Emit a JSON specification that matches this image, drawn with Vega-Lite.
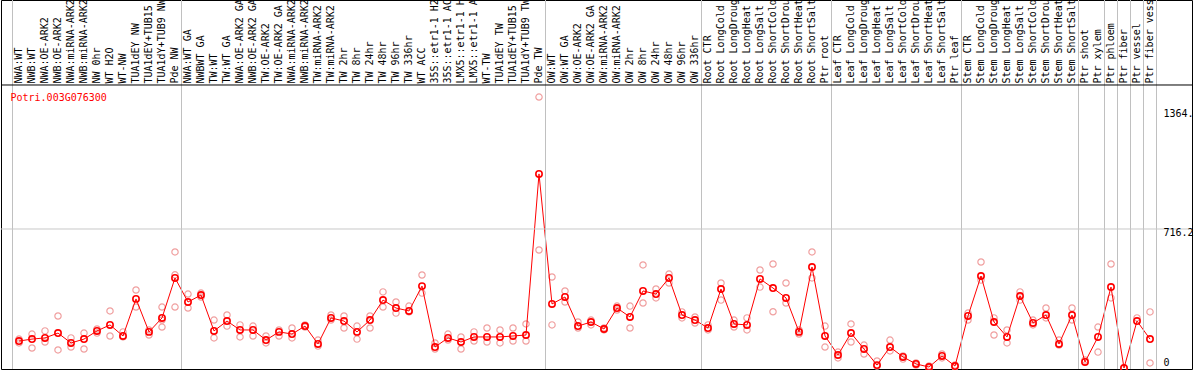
{
"$schema":"https://vega.github.io/schema/vega-lite/v6.json",
"width":1191,"height":369,
"autosize":{"type":"none"},
"padding":{"left":1,"top":0,"right":2,"bottom":1},
"background":"white",
"config":{"view":{"stroke":"#000000","strokeWidth":1},"font":"DejaVu Sans Mono"},
"data":{"values":[
{"c":"NWA:WT","k":"m","v":139,"g":"A"},{"c":"NWA:WT","k":"r","v":149},{"c":"NWA:WT","k":"r","v":129},
{"c":"NWB:WT","k":"m","v":149,"g":"A"},{"c":"NWB:WT","k":"r","v":175},{"c":"NWB:WT","k":"r","v":103},
{"c":"NWA:OE-ARK2","k":"m","v":155,"g":"A"},{"c":"NWA:OE-ARK2","k":"r","v":191},{"c":"NWA:OE-ARK2","k":"r","v":134},
{"c":"NWB:OE-ARK2","k":"m","v":180,"g":"A"},{"c":"NWB:OE-ARK2","k":"r","v":268},{"c":"NWB:OE-ARK2","k":"r","v":93},
{"c":"NWA:miRNA-ARK2","k":"m","v":129,"g":"A"},{"c":"NWA:miRNA-ARK2","k":"r","v":155},{"c":"NWA:miRNA-ARK2","k":"r","v":108},
{"c":"NWB:miRNA-ARK2","k":"m","v":149,"g":"A"},{"c":"NWB:miRNA-ARK2","k":"r","v":180},{"c":"NWB:miRNA-ARK2","k":"r","v":98},
{"c":"NW 0hr","k":"m","v":191,"g":"A"},{"c":"NW 0hr","k":"r","v":201},{"c":"NW 0hr","k":"r","v":180},
{"c":"WT H2O","k":"m","v":222,"g":"A"},{"c":"WT H2O","k":"r","v":294},{"c":"WT H2O","k":"r","v":165},
{"c":"WT-NW","k":"m","v":165,"g":"A"},{"c":"WT-NW","k":"r","v":186},{"c":"WT-NW","k":"r","v":160},
{"c":"TUA1dEY NW","k":"m","v":356,"g":"A"},{"c":"TUA1dEY NW","k":"r","v":402},{"c":"TUA1dEY NW","k":"r","v":314},
{"c":"TUA1dEY+TUB15 NW","k":"m","v":186,"g":"A"},{"c":"TUA1dEY+TUB15 NW","k":"r","v":196},{"c":"TUA1dEY+TUB15 NW","k":"r","v":170},
{"c":"TUA1dY+TUB9 NW","k":"m","v":258,"g":"A"},{"c":"TUA1dY+TUB9 NW","k":"r","v":314},{"c":"TUA1dY+TUB9 NW","k":"r","v":247},{"c":"TUA1dY+TUB9 NW","k":"r","v":211},
{"c":"Pde NW","k":"m","v":464,"g":"A"},{"c":"Pde NW","k":"r","v":598},{"c":"Pde NW","k":"r","v":480},{"c":"Pde NW","k":"r","v":314},
{"c":"NWA:WT GA","k":"m","v":340,"g":"B"},{"c":"NWA:WT GA","k":"r","v":381},{"c":"NWA:WT GA","k":"r","v":309},
{"c":"NWBWT GA","k":"m","v":376,"g":"B"},{"c":"NWBWT GA","k":"r","v":386},{"c":"NWBWT GA","k":"r","v":366},
{"c":"TW:WT","k":"m","v":191,"g":"B"},{"c":"TW:WT","k":"r","v":247},{"c":"TW:WT","k":"r","v":155},
{"c":"TW:WT GA","k":"m","v":242,"g":"B"},{"c":"TW:WT GA","k":"r","v":273},{"c":"TW:WT GA","k":"r","v":216},
{"c":"NWA:OE-ARK2 GA","k":"m","v":196,"g":"B"},{"c":"NWA:OE-ARK2 GA","k":"r","v":222},{"c":"NWA:OE-ARK2 GA","k":"r","v":160},
{"c":"NWB:OE-ARK2 GA","k":"m","v":196,"g":"B"},{"c":"NWB:OE-ARK2 GA","k":"r","v":216},{"c":"NWB:OE-ARK2 GA","k":"r","v":165},
{"c":"TW:OE-ARK2","k":"m","v":144,"g":"B"},{"c":"TW:OE-ARK2","k":"r","v":165},{"c":"TW:OE-ARK2","k":"r","v":129},
{"c":"TW:OE-ARK2 GA","k":"m","v":186,"g":"B"},{"c":"TW:OE-ARK2 GA","k":"r","v":196},{"c":"TW:OE-ARK2 GA","k":"r","v":165},
{"c":"NWA:miRNA-ARK2 GA","k":"m","v":175,"g":"B"},{"c":"NWA:miRNA-ARK2 GA","k":"r","v":206},{"c":"NWA:miRNA-ARK2 GA","k":"r","v":155},
{"c":"NWB:miRNA-ARK2 GA","k":"m","v":216,"g":"B"},{"c":"NWB:miRNA-ARK2 GA","k":"r","v":222},{"c":"NWB:miRNA-ARK2 GA","k":"r","v":211},
{"c":"TW:miRNA-ARK2","k":"m","v":124,"g":"B"},{"c":"TW:miRNA-ARK2","k":"r","v":144},{"c":"TW:miRNA-ARK2","k":"r","v":113},
{"c":"TW:miRNA-ARK2 GA","k":"m","v":258,"g":"B"},{"c":"TW:miRNA-ARK2 GA","k":"r","v":273},{"c":"TW:miRNA-ARK2 GA","k":"r","v":247},
{"c":"TW 2hr","k":"m","v":242,"g":"B"},{"c":"TW 2hr","k":"r","v":268},{"c":"TW 2hr","k":"r","v":206},
{"c":"TW 8hr","k":"m","v":186,"g":"B"},{"c":"TW 8hr","k":"r","v":216},{"c":"TW 8hr","k":"r","v":149},
{"c":"TW 24hr","k":"m","v":247,"g":"B"},{"c":"TW 24hr","k":"r","v":268},{"c":"TW 24hr","k":"r","v":206},
{"c":"TW 48hr","k":"m","v":350,"g":"B"},{"c":"TW 48hr","k":"r","v":392},{"c":"TW 48hr","k":"r","v":314},
{"c":"TW 96hr","k":"m","v":309,"g":"B"},{"c":"TW 96hr","k":"r","v":340},{"c":"TW 96hr","k":"r","v":283},
{"c":"TW 336hr","k":"m","v":294,"g":"B"},{"c":"TW 336hr","k":"r","v":319},{"c":"TW 336hr","k":"r","v":289},
{"c":"WT ACC","k":"m","v":422,"g":"B"},{"c":"WT ACC","k":"r","v":479},{"c":"WT ACC","k":"r","v":386},
{"c":"35S::etr1-1 H2O","k":"m","v":108,"g":"B"},{"c":"35S::etr1-1 H2O","k":"r","v":129},{"c":"35S::etr1-1 H2O","k":"r","v":98},
{"c":"35S::etr1-1 ACC","k":"m","v":155,"g":"B"},{"c":"35S::etr1-1 ACC","k":"r","v":175},{"c":"35S::etr1-1 ACC","k":"r","v":144},
{"c":"LMX5::etr1-1 H2O","k":"m","v":134,"g":"B"},{"c":"LMX5::etr1-1 H2O","k":"r","v":160},{"c":"LMX5::etr1-1 H2O","k":"r","v":98},
{"c":"LMX5::etr1-1 ACC","k":"m","v":160,"g":"B"},{"c":"LMX5::etr1-1 ACC","k":"r","v":186},{"c":"LMX5::etr1-1 ACC","k":"r","v":139},
{"c":"WT-TW","k":"m","v":160,"g":"B"},{"c":"WT-TW","k":"r","v":206},{"c":"WT-TW","k":"r","v":134},
{"c":"TUA1dEY TW","k":"m","v":160,"g":"B"},{"c":"TUA1dEY TW","k":"r","v":196},{"c":"TUA1dEY TW","k":"r","v":129},
{"c":"TUA1dEY+TUB15 TW","k":"m","v":165,"g":"B"},{"c":"TUA1dEY+TUB15 TW","k":"r","v":206},{"c":"TUA1dEY+TUB15 TW","k":"r","v":139},
{"c":"TUA1dY+TUB9 TW","k":"m","v":170,"g":"B"},{"c":"TUA1dY+TUB9 TW","k":"r","v":227},{"c":"TUA1dY+TUB9 TW","k":"r","v":139},
{"c":"Pde TW","k":"m","v":1000,"g":"B"},{"c":"Pde TW","k":"r","v":1396},{"c":"Pde TW","k":"r","v":608},
{"c":"OW:WT","k":"m","v":330,"g":"C"},{"c":"OW:WT","k":"r","v":469},{"c":"OW:WT","k":"r","v":222},
{"c":"OW:WT GA","k":"m","v":366,"g":"C"},{"c":"OW:WT GA","k":"r","v":397},{"c":"OW:WT GA","k":"r","v":340},
{"c":"OW:OE-ARK2","k":"m","v":216,"g":"C"},{"c":"OW:OE-ARK2","k":"r","v":237},{"c":"OW:OE-ARK2","k":"r","v":206},
{"c":"OW:OE-ARK2 GA","k":"m","v":237,"g":"C"},{"c":"OW:OE-ARK2 GA","k":"r","v":247},{"c":"OW:OE-ARK2 GA","k":"r","v":222},
{"c":"OW:miRNA-ARK2","k":"m","v":201,"g":"C"},{"c":"OW:miRNA-ARK2","k":"r","v":206},{"c":"OW:miRNA-ARK2","k":"r","v":196},
{"c":"OW:miRNA-ARK2 GA","k":"m","v":309,"g":"C"},{"c":"OW:miRNA-ARK2 GA","k":"r","v":319},{"c":"OW:miRNA-ARK2 GA","k":"r","v":299},
{"c":"OW 2hr","k":"m","v":263,"g":"C"},{"c":"OW 2hr","k":"r","v":319},{"c":"OW 2hr","k":"r","v":206},
{"c":"OW 8hr","k":"m","v":397,"g":"C"},{"c":"OW 8hr","k":"r","v":531},{"c":"OW 8hr","k":"r","v":335},
{"c":"OW 24hr","k":"m","v":381,"g":"C"},{"c":"OW 24hr","k":"r","v":407},{"c":"OW 24hr","k":"r","v":361},
{"c":"OW 48hr","k":"m","v":464,"g":"C"},{"c":"OW 48hr","k":"r","v":484},{"c":"OW 48hr","k":"r","v":438},
{"c":"OW 96hr","k":"m","v":273,"g":"C"},{"c":"OW 96hr","k":"r","v":289},{"c":"OW 96hr","k":"r","v":258},
{"c":"OW 336hr","k":"m","v":247,"g":"C"},{"c":"OW 336hr","k":"r","v":263},{"c":"OW 336hr","k":"r","v":232},
{"c":"Root CTR","k":"m","v":206,"g":"D"},{"c":"Root CTR","k":"r","v":222},{"c":"Root CTR","k":"r","v":196},
{"c":"Root LongCold","k":"m","v":407,"g":"D"},{"c":"Root LongCold","k":"r","v":438},{"c":"Root LongCold","k":"r","v":350},
{"c":"Root LongDrought","k":"m","v":227,"g":"D"},{"c":"Root LongDrought","k":"r","v":247},{"c":"Root LongDrought","k":"r","v":211},
{"c":"Root LongHeat","k":"m","v":222,"g":"D"},{"c":"Root LongHeat","k":"r","v":258},{"c":"Root LongHeat","k":"r","v":196},
{"c":"Root LongSalt","k":"m","v":459,"g":"D"},{"c":"Root LongSalt","k":"r","v":505},{"c":"Root LongSalt","k":"r","v":417},
{"c":"Root ShortCold","k":"m","v":412,"g":"D"},{"c":"Root ShortCold","k":"r","v":536},{"c":"Root ShortCold","k":"r","v":290},
{"c":"Root ShortDrought","k":"m","v":361,"g":"D"},{"c":"Root ShortDrought","k":"r","v":438},{"c":"Root ShortDrought","k":"r","v":335},
{"c":"Root ShortHeat","k":"m","v":186,"g":"D"},{"c":"Root ShortHeat","k":"r","v":196},{"c":"Root ShortHeat","k":"r","v":175},
{"c":"Root ShortSalt","k":"m","v":520,"g":"D"},{"c":"Root ShortSalt","k":"r","v":598},{"c":"Root ShortSalt","k":"r","v":464},
{"c":"Ptr root","k":"m","v":165,"g":"D"},{"c":"Ptr root","k":"r","v":216},{"c":"Ptr root","k":"r","v":108},
{"c":"Leaf CTR","k":"m","v":67,"g":"E"},{"c":"Leaf CTR","k":"r","v":82},{"c":"Leaf CTR","k":"r","v":52},
{"c":"Leaf LongCold","k":"m","v":180,"g":"E"},{"c":"Leaf LongCold","k":"r","v":227},{"c":"Leaf LongCold","k":"r","v":134},
{"c":"Leaf LongDrought","k":"m","v":98,"g":"E"},{"c":"Leaf LongDrought","k":"r","v":118},{"c":"Leaf LongDrought","k":"r","v":72},
{"c":"Leaf LongHeat","k":"m","v":15,"g":"E"},{"c":"Leaf LongHeat","k":"r","v":36},{"c":"Leaf LongHeat","k":"r","v":10},
{"c":"Leaf LongSalt","k":"m","v":108,"g":"E"},{"c":"Leaf LongSalt","k":"r","v":144},{"c":"Leaf LongSalt","k":"r","v":88},
{"c":"Leaf ShortCold","k":"m","v":57,"g":"E"},{"c":"Leaf ShortCold","k":"r","v":62},{"c":"Leaf ShortCold","k":"r","v":46},
{"c":"Leaf ShortDrought","k":"m","v":21,"g":"E"},{"c":"Leaf ShortDrought","k":"r","v":26},{"c":"Leaf ShortDrought","k":"r","v":15},
{"c":"Leaf ShortHeat","k":"m","v":5,"g":"E"},{"c":"Leaf ShortHeat","k":"r","v":10},{"c":"Leaf ShortHeat","k":"r","v":0},
{"c":"Leaf ShortSalt","k":"m","v":62,"g":"E"},{"c":"Leaf ShortSalt","k":"r","v":72},{"c":"Leaf ShortSalt","k":"r","v":52},
{"c":"Ptr leaf","k":"m","v":10,"g":"E"},{"c":"Ptr leaf","k":"r","v":15},{"c":"Ptr leaf","k":"r","v":5},
{"c":"Stem CTR","k":"m","v":268,"g":"F"},{"c":"Stem CTR","k":"r","v":283},{"c":"Stem CTR","k":"r","v":247},
{"c":"Stem LongCold","k":"m","v":474,"g":"F"},{"c":"Stem LongCold","k":"r","v":546},{"c":"Stem LongCold","k":"r","v":453},
{"c":"Stem LongDrought","k":"m","v":237,"g":"F"},{"c":"Stem LongDrought","k":"r","v":258},{"c":"Stem LongDrought","k":"r","v":170},
{"c":"Stem LongHeat","k":"m","v":160,"g":"F"},{"c":"Stem LongHeat","k":"r","v":196},{"c":"Stem LongHeat","k":"r","v":129},
{"c":"Stem LongSalt","k":"m","v":371,"g":"F"},{"c":"Stem LongSalt","k":"r","v":392},{"c":"Stem LongSalt","k":"r","v":350},
{"c":"Stem ShortCold","k":"m","v":232,"g":"F"},{"c":"Stem ShortCold","k":"r","v":247},{"c":"Stem ShortCold","k":"r","v":222},
{"c":"Stem ShortDrought","k":"m","v":273,"g":"F"},{"c":"Stem ShortDrought","k":"r","v":309},{"c":"Stem ShortDrought","k":"r","v":258},
{"c":"Stem ShortHeat","k":"m","v":124,"g":"F"},{"c":"Stem ShortHeat","k":"r","v":144},{"c":"Stem ShortHeat","k":"r","v":118},
{"c":"Stem ShortSalt","k":"m","v":273,"g":"F"},{"c":"Stem ShortSalt","k":"r","v":309},{"c":"Stem ShortSalt","k":"r","v":247},
{"c":"Ptr shoot","k":"m","v":31,"g":"G"},{"c":"Ptr shoot","k":"r","v":41},
{"c":"Ptr xylem","k":"m","v":160,"g":"G"},{"c":"Ptr xylem","k":"r","v":211},{"c":"Ptr xylem","k":"r","v":82},
{"c":"Ptr phloem","k":"m","v":417,"g":"H"},{"c":"Ptr phloem","k":"r","v":536},{"c":"Ptr phloem","k":"r","v":361},
{"c":"Ptr fiber","k":"m","v":0,"g":"I"},{"c":"Ptr fiber","k":"r","v":0},
{"c":"Ptr vessel","k":"m","v":242,"g":"J"},{"c":"Ptr vessel","k":"r","v":258},
{"c":"Ptr fiber vessel","k":"m","v":149,"g":"K"},{"c":"Ptr fiber vessel","k":"r","v":289},{"c":"Ptr fiber vessel","k":"r","v":26}
]},
"layer":[
{"transform":[{"filter":"datum.k == 'r'"}],
 "mark":{"type":"point","shape":"circle","filled":false,"stroke":"#f0a0a0","strokeWidth":1.2,"size":40,"opacity":1,"clip":false},
 "encoding":{"x":{"field":"c","type":"nominal","sort":null,"title":null,"scale":{"type":"band","paddingInner":0,"paddingOuter":0,"range":[11.5,1155.5],"round":false},
   "axis":{"orient":"top","offset":-85,"title":null,"domain":false,"ticks":false,"tickSize":0,"grid":false,"labelAngle":-90,"labelAlign":"left","labelBaseline":"middle","labelPadding":2,"labelFont":"DejaVu Sans Mono","labelFontSize":10,"labelColor":"#000000","labelOverlap":false,"labelLimit":110,"labelFlush":false,"labelBound":false,"zindex":1}},
  "y":{"field":"v","type":"quantitative","scale":{"domain":[-5.15,1896.1],"nice":false,"zero":false},
   "axis":{"orient":"right","values":[0,716.2,1364.3],"labelExpr":"substring(toString(datum.value), 0, 5)","domain":false,"ticks":false,"tickSize":0,"grid":false,"labelAlign":"left","labelPadding":-29,
    "labelBaseline":{"condition":{"test":"datum.value == 0","value":"bottom"},"value":"top"},
    "labelOffset":{"condition":{"test":"datum.value > 1000","value":5},"value":-1},
    "labelFont":"DejaVu Sans Mono","labelFontSize":10,"labelColor":"#000000","labelOverlap":false,"labelFlush":false,"labelBound":false,
    "title":"Potri.003G076300","titleX":-1182,"titleY":92,"titleAngle":0,"titleAlign":"left","titleBaseline":"top","titleColor":"#ff0000","titleFont":"DejaVu Sans Mono","titleFontSize":10,"titleFontWeight":"normal","titlePadding":0,"zindex":1}}}},
{"transform":[{"filter":"datum.k == 'm'"}],
 "mark":{"type":"line","color":"#ff0000","strokeWidth":1,"clip":false},
 "encoding":{"x":{"field":"c","type":"nominal","sort":null},
  "y":{"field":"v","type":"quantitative"},
  "order":{"value":null}}},
{"transform":[{"filter":"datum.k == 'm'"}],
 "mark":{"type":"point","shape":"circle","filled":false,"stroke":"#ff0000","strokeWidth":1.6,"size":40,"opacity":1,"clip":false},
 "encoding":{"x":{"field":"c","type":"nominal","sort":null},
  "y":{"field":"v","type":"quantitative"}}},
{"transform":[{"filter":"datum.k == 'm'"},{"window":[{"op":"row_number","as":"rn"}]},{"joinaggregate":[{"op":"max","field":"rn","as":"last"}],"groupby":["g"]},{"filter":"datum.rn == datum.last"}],
 "mark":{"type":"rule","color":"#c0c0c0","strokeWidth":1},
 "encoding":{"x":{"field":"c","type":"nominal","sort":null,"bandPosition":1}}},
{"transform":[{"filter":"datum.k == 'm'"},{"window":[{"op":"row_number","as":"rn"}]},{"filter":"datum.rn == 1"}],
 "mark":{"type":"rule","color":"#c0c0c0","strokeWidth":1},
 "encoding":{"x":{"field":"c","type":"nominal","sort":null,"bandPosition":0}}},
{"data":{"values":[{"t":716.2,"line":"grid"},{"t":1458.2,"line":"frame"}]},
 "mark":{"type":"rule","strokeWidth":1},
 "encoding":{"y":{"field":"t","type":"quantitative"},
  "color":{"field":"line","type":"nominal","legend":null,"scale":{"domain":["grid","frame"],"range":["#c8c8c8","#000000"]}}}}
]
}
